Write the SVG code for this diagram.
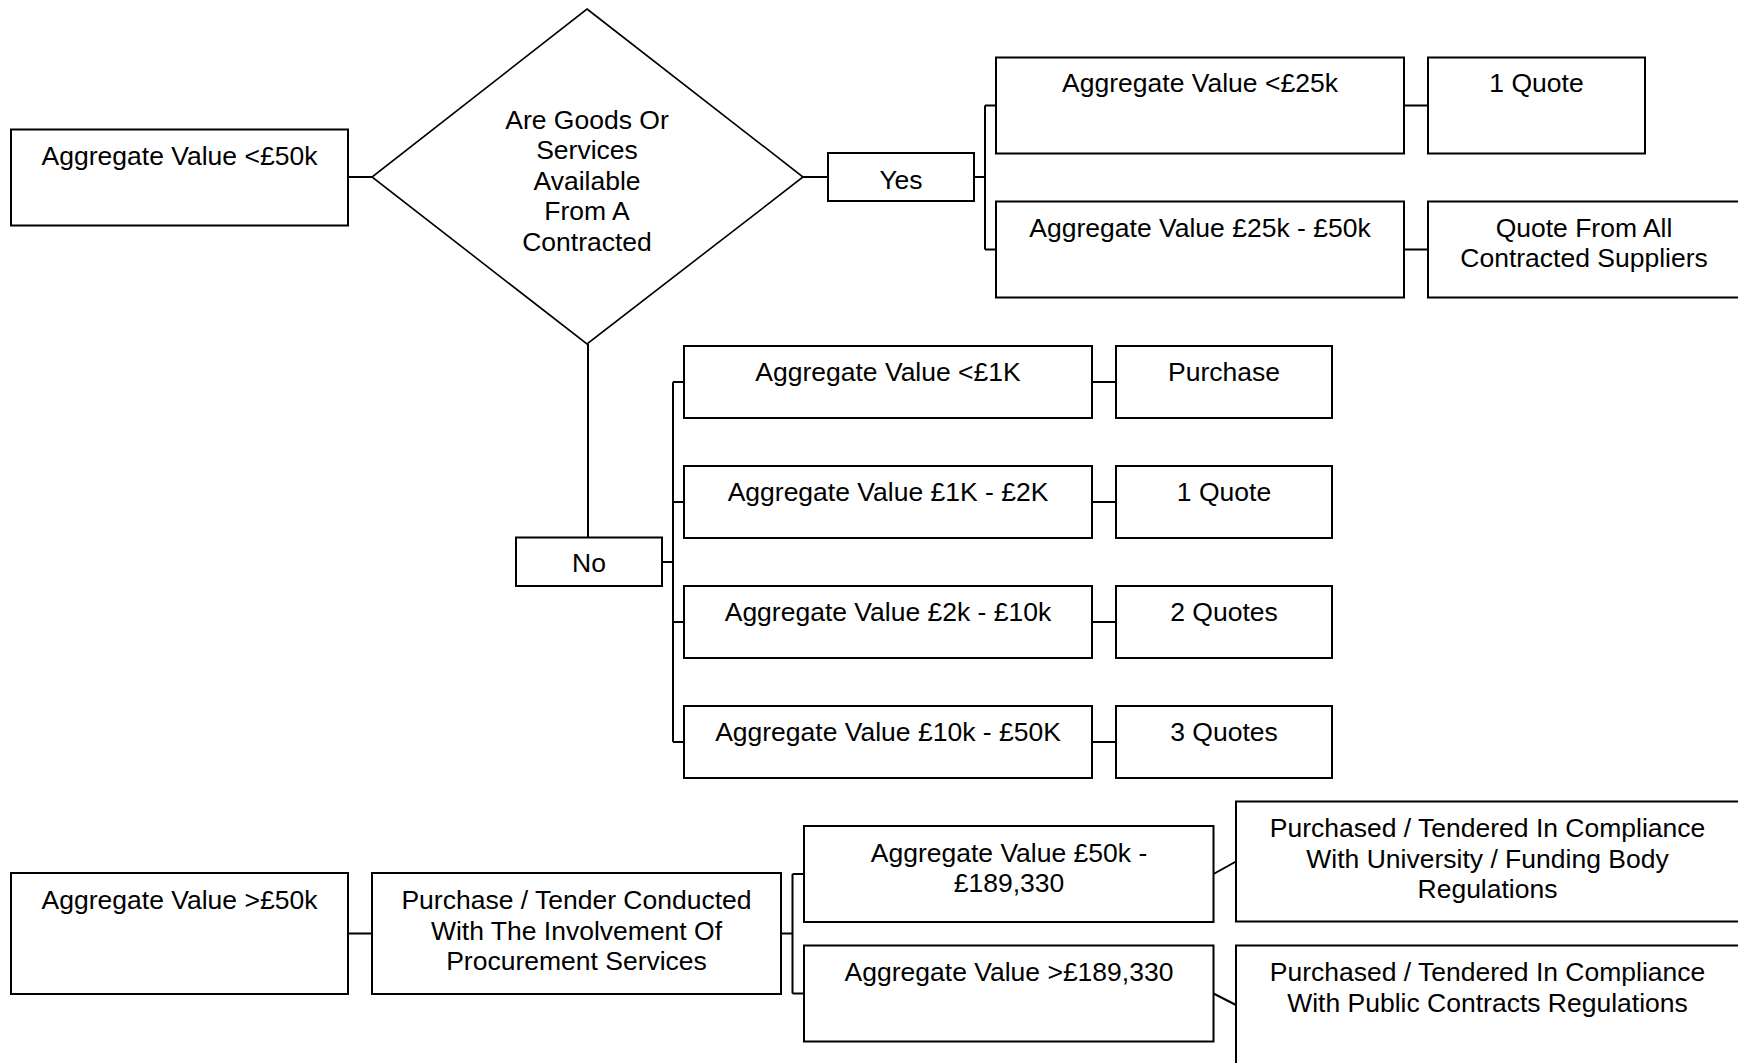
<svg xmlns="http://www.w3.org/2000/svg" width="1738" height="1063" viewBox="0 0 1738 1063">
<style>
.box{fill:#fff;stroke:#000;stroke-width:2}
.dia{fill:#fff;stroke:#000;stroke-width:1.6}
.con{fill:none;stroke:#000;stroke-width:2}
text{font-family:"Liberation Sans",Arial,sans-serif;font-size:26.5px;fill:#000;text-anchor:middle}
</style>
<rect width="1738" height="1063" fill="#fff"/>
<g id="connectors">
<path class="con" d="M348 177H372M803 177H828"/>
<path class="con" d="M974 177H985M985 105.5V249.5M985 105.5H996M985 249.5H996"/>
<path class="con" d="M1404 105.5H1428M1404 249.5H1428"/>
<path class="con" d="M588 344V537.5"/>
<path class="con" d="M662 562H673M673 382V742M673 382H684M673 502H684M673 622H684M673 742H684"/>
<path class="con" d="M1092 382H1116M1092 502H1116M1092 622H1116M1092 742H1116"/>
<path class="con" d="M348 933.5H372M781 933.5H792.5M792.5 874V993.5M792.5 874H804M792.5 993.5H804"/>
<path class="con" d="M1213.5 874L1236 861.5M1213.5 993.5L1236 1005"/>
</g>
<g id="n-lt50k"><rect class="box" x="11" y="129.5" width="337" height="96"/><text x="179.5" y="164.5">Aggregate Value &lt;£50k</text></g>
<g id="n-decision"><polygon class="dia" points="587,9 803,177 587,344 372,177"/>
<text x="587" y="128.5">Are Goods Or</text><text x="587" y="159">Services</text><text x="587" y="189.5">Available</text><text x="587" y="220">From A</text><text x="587" y="250.5">Contracted</text></g>
<g id="n-yes"><rect class="box" x="828" y="153" width="146" height="48"/><text x="901" y="189">Yes</text></g>
<g id="n-lt25k"><rect class="box" x="996" y="57.5" width="408" height="96"/><text x="1200" y="92">Aggregate Value &lt;£25k</text></g>
<g id="n-1quote-a"><rect class="box" x="1428" y="57.5" width="217" height="96"/><text x="1536.5" y="92">1 Quote</text></g>
<g id="n-25-50k"><rect class="box" x="996" y="201.5" width="408" height="96"/><text x="1200" y="236.7">Aggregate Value £25k - £50k</text></g>
<g id="n-allsuppliers"><rect class="box" x="1428" y="201.5" width="330" height="96"/><text x="1584" y="236.7">Quote From All</text><text x="1584" y="267.2">Contracted Suppliers</text></g>
<g id="n-no"><rect class="box" x="516" y="537.5" width="146" height="48.5"/><text x="589" y="571.7">No</text></g>
<g id="n-lt1k"><rect class="box" x="684" y="346" width="408" height="72"/><text x="888" y="380.5">Aggregate Value &lt;£1K</text></g>
<g id="n-purchase"><rect class="box" x="1116" y="346" width="216" height="72"/><text x="1224" y="380.5">Purchase</text></g>
<g id="n-1-2k"><rect class="box" x="684" y="466" width="408" height="72"/><text x="888" y="500.5">Aggregate Value £1K - £2K</text></g>
<g id="n-1quote-b"><rect class="box" x="1116" y="466" width="216" height="72"/><text x="1224" y="500.5">1 Quote</text></g>
<g id="n-2-10k"><rect class="box" x="684" y="586" width="408" height="72"/><text x="888" y="620.5">Aggregate Value £2k - £10k</text></g>
<g id="n-2quotes"><rect class="box" x="1116" y="586" width="216" height="72"/><text x="1224" y="620.5">2 Quotes</text></g>
<g id="n-10-50k"><rect class="box" x="684" y="706" width="408" height="72"/><text x="888" y="740.5">Aggregate Value £10k - £50K</text></g>
<g id="n-3quotes"><rect class="box" x="1116" y="706" width="216" height="72"/><text x="1224" y="740.5">3 Quotes</text></g>
<g id="n-gt50k"><rect class="box" x="11" y="873" width="337" height="121"/><text x="179.5" y="909">Aggregate Value &gt;£50k</text></g>
<g id="n-procurement"><rect class="box" x="372" y="873" width="409" height="121"/><text x="576.5" y="909">Purchase / Tender Conducted</text><text x="576.5" y="939.5">With The Involvement Of</text><text x="576.5" y="970">Procurement Services</text></g>
<g id="n-50-189k"><rect class="box" x="804" y="826" width="409.5" height="96"/><text x="1009" y="861.7">Aggregate Value £50k -</text><text x="1009" y="892">£189,330</text></g>
<g id="n-gt189k"><rect class="box" x="804" y="945.5" width="409.5" height="96"/><text x="1009" y="981">Aggregate Value &gt;£189,330</text></g>
<g id="n-university"><rect class="box" x="1236" y="801.5" width="520" height="120"/><text x="1487.5" y="837">Purchased / Tendered In Compliance</text><text x="1487.5" y="867.5">With University / Funding Body</text><text x="1487.5" y="898">Regulations</text></g>
<g id="n-public"><rect class="box" x="1236" y="945.5" width="520" height="130"/><text x="1487.5" y="981">Purchased / Tendered In Compliance</text><text x="1487.5" y="1011.5">With Public Contracts Regulations</text></g>
</svg>
